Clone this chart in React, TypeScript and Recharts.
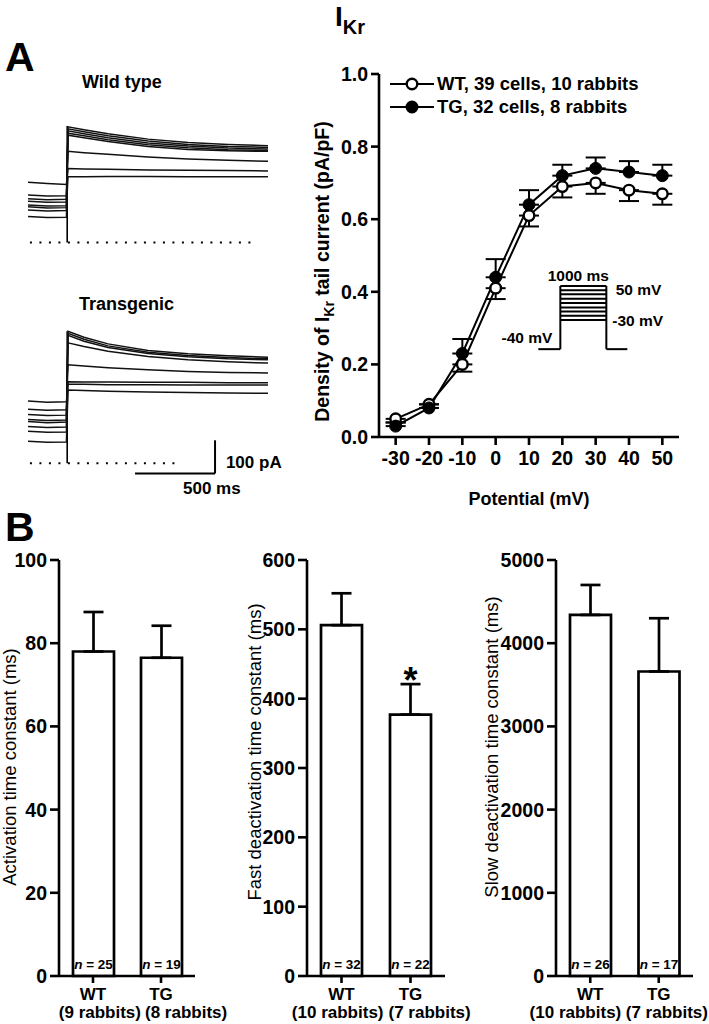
import React from 'react';
import {
  LineChart, Line, XAxis, YAxis, ErrorBar, ReferenceLine, ReferenceDot, Legend,
  BarChart, Bar, LabelList,
} from 'recharts';

const FONT = '"Liberation Sans", Arial, Helvetica, sans-serif';

// ---------- Panel A (right): I-V relation of IKr tail current density ----------
const potentials = [-30, -20, -10, 0, 10, 20, 30, 40, 50];
const wtDensity = [0.05, 0.09, 0.2, 0.41, 0.61, 0.69, 0.7, 0.68, 0.67];
const wtSem = [0.01, 0.01, 0.02, 0.03, 0.03, 0.03, 0.03, 0.03, 0.03];
const tgDensity = [0.03, 0.08, 0.23, 0.44, 0.64, 0.72, 0.74, 0.73, 0.72];
const tgSem = [0.01, 0.01, 0.04, 0.05, 0.04, 0.03, 0.03, 0.03, 0.03];
const densityTicks = [0, 0.2, 0.4, 0.6, 0.8, 1.0];
const legendNames = ['WT, 39 cells, 10 rabbits', 'TG, 32 cells, 8 rabbits'];

// voltage-protocol inset (schematic, in the I-V plot's units)
const insetHold = 0.242;
const insetX = [12.8, 19.4, 33.2, 39.5];
const insetStepLevels = [0.322, 0.334, 0.346, 0.357, 0.369, 0.381, 0.393, 0.404, 0.416];

// ---------- Panel A (left): current traces (pA vs ms) ----------
const traceTimes = [0, 120, 240, 250, 350, 500, 750, 1000, 1250, 1500];
const wtTraces = [
  [98, 95, 96, 349, 340, 328, 312, 302, 296, 292],
  [113, 110, 111, 343, 334, 322, 306, 296, 290, 287],
  [124, 121, 122, 337, 328, 316, 300, 291, 285, 282],
  [143, 140, 141, 330, 322, 310, 295, 286, 280, 278],
  [132, 129, 130, 324, 316, 305, 290, 281, 277, 275],
  [78, 75, 76, 275, 271, 266, 258, 252, 248, 245],
  [182, 178, 175, 223, 222, 221, 219, 218, 217, 216],
  [108, 104, 105, 198, 198, 199, 199, 198, 198, 198],
];
const tgTraces = [
  [111, 108, 109, 398, 380, 360, 340, 330, 324, 320],
  [126, 122, 124, 392, 374, 354, 335, 325, 319, 315],
  [132, 129, 130, 386, 368, 349, 331, 321, 315, 312],
  [147, 144, 145, 363, 352, 338, 322, 312, 306, 302],
  [163, 160, 161, 297, 293, 288, 282, 277, 274, 272],
  [96, 93, 94, 246, 245, 245, 244, 244, 243, 243],
  [188, 184, 185, 238, 238, 237, 237, 236, 236, 236],
  [66, 63, 64, 221, 219, 217, 215, 213, 212, 211],
];

// ---------- Panel B: time constants ----------
const groups = ['WT', 'TG'];
const actRabbits = ['(9 rabbits)', '(8 rabbits)'];
const actMean = [78, 76.5];
const actSem = [9.5, 7.7];
const actN = [25, 19];
const actTicks = [0, 20, 40, 60, 80, 100];

const fastRabbits = ['(10 rabbits)', '(7 rabbits)'];
const fastMean = [506, 377];
const fastSem = [46, 44];
const fastN = [32, 22];
const fastSig = ['', '*'];
const fastTicks = [0, 100, 200, 300, 400, 500, 600];

const slowRabbits = ['(10 rabbits)', '(7 rabbits)'];
const slowMean = [4340, 3660];
const slowSem = [360, 640];
const slowN = [26, 17];
const slowTicks = [0, 1000, 2000, 3000, 4000, 5000];

const AX = { stroke: '#000', strokeWidth: 2.6 };
const TICK = { fill: '#000', fontSize: 19.5, fontWeight: 'bold', fontFamily: FONT };

// ---------------- helpers ----------------
const getVB = (p: any) => p.viewBox || p;

const RotTitle = (p: any) => {
  const vb = getVB(p);
  if (!vb || vb.x == null) return null;
  const cx = vb.x + vb.width - p.off;
  const cy = vb.y + vb.height / 2 + (p.dy || 0);
  return (
    <text
      x={cx}
      y={cy}
      transform={`rotate(-90, ${cx}, ${cy})`}
      textAnchor="middle"
      fill="#000"
      fontFamily={FONT}
      fontSize={p.size}
      fontWeight={p.weight}
    >
      {p.children}
    </text>
  );
};

const IVLegend = () => (
  <div style={{ fontFamily: FONT, fontWeight: 'bold', fontSize: 18.5, color: '#000' }}>
    {legendNames.map((name, i) => (
      <div key={name} style={{ display: 'flex', alignItems: 'center', height: 23, whiteSpace: 'nowrap' }}>
        <svg width={44} height={16} style={{ display: 'block' }}>
          <line x1={0} y1={8} x2={44} y2={8} stroke="#000" strokeWidth={2} />
          <circle cx={22} cy={8} r={5.3} fill={i === 0 ? '#fff' : '#000'} stroke="#000" strokeWidth={2.4} />
        </svg>
        <span style={{ marginLeft: 3 }}>{name}</span>
      </div>
    ))}
  </div>
);

const textShape = (label: string, anchor: string, size = 17) => (p: any) => (
  <text
    x={p.cx}
    y={p.cy}
    textAnchor={anchor}
    dominantBaseline="central"
    fill="#000"
    fontFamily={FONT}
    fontWeight="bold"
    fontSize={size}
  >
    {label}
  </text>
);

// ---------------- I-V chart ----------------
const IVChart = () => {
  const ivData = potentials.map((v, i) => ({
    v,
    wt: wtDensity[i],
    tg: tgDensity[i],
    wtErr: [wtSem[i], 0],
    tgErr: [0, tgSem[i]],
  }));
  const [xl, xs, xe, xr] = insetX;
  const top = insetStepLevels[insetStepLevels.length - 1];
  return (
    <LineChart width={409} height={480} data={ivData} margin={{ top: 34, right: 30, bottom: 0, left: 0 }}>
      <XAxis
        type="number"
        dataKey="v"
        domain={[-35, 55]}
        ticks={potentials}
        tickSize={8}
        tickMargin={6}
        height={83}
        axisLine={AX}
        tickLine={AX}
        tick={TICK}
        label={(p: any) => {
          const vb = getVB(p);
          if (!vb || vb.x == null) return null;
          return (
            <text x={vb.x + vb.width / 2} y={vb.y + 68} textAnchor="middle" fill="#000" fontFamily={FONT} fontSize={18} fontWeight="bold">
              Potential (mV)
            </text>
          );
        }}
      />
      <YAxis
        type="number"
        domain={[0, 1]}
        ticks={densityTicks}
        tickFormatter={(v: number) => v.toFixed(1)}
        width={79}
        tickSize={8}
        tickMargin={3}
        axisLine={AX}
        tickLine={AX}
        tick={TICK}
        label={(p: any) => (
          <RotTitle {...p} off={50} dy={16} size={19.5} weight="bold">
            Density of I<tspan fontSize={14} dy={5}>Kr</tspan>
            <tspan dy={-5}> tail current (pA/pF)</tspan>
          </RotTitle>
        )}
      />
      <Legend
        content={IVLegend}
        layout="vertical"
        align="center"
        verticalAlign="middle"
        wrapperStyle={{ left: 90, top: 32, width: 'auto', height: 'auto' }}
      />
      {/* voltage protocol inset */}
      <ReferenceLine segment={[{ x: xl, y: insetHold }, { x: xs, y: insetHold }]} stroke="#000" strokeWidth={2} />
      <ReferenceLine segment={[{ x: xs, y: insetHold }, { x: xs, y: top }]} stroke="#000" strokeWidth={2} />
      {insetStepLevels.map((lv) => (
        <ReferenceLine key={lv} segment={[{ x: xs, y: lv }, { x: xe, y: lv }]} stroke="#000" strokeWidth={2} />
      ))}
      <ReferenceLine segment={[{ x: xe, y: top }, { x: xe, y: insetHold }]} stroke="#000" strokeWidth={2} />
      <ReferenceLine segment={[{ x: xe, y: insetHold }, { x: xr, y: insetHold }]} stroke="#000" strokeWidth={2} />
      <ReferenceDot x={24.8} y={0.446} r={0} shape={textShape('1000 ms', 'middle', 15.5)} />
      <ReferenceDot x={36} y={0.405} r={0} shape={textShape('50 mV', 'start', 15.5)} />
      <ReferenceDot x={35} y={0.322} r={0} shape={textShape('-30 mV', 'start', 15.5)} />
      <ReferenceDot x={17} y={0.273} r={0} shape={textShape('-40 mV', 'end', 15.5)} />

      <Line
        dataKey="wt"
        type="linear"
        stroke="#000"
        strokeWidth={2}
        isAnimationActive={false}
        dot={{ r: 5.3, fill: '#fff', stroke: '#000', strokeWidth: 2.4 }}
        activeDot={false}
      >
        <ErrorBar dataKey="wtErr" width={10} stroke="#000" strokeWidth={2} direction="y" />
      </Line>
      <Line
        dataKey="tg"
        type="linear"
        stroke="#000"
        strokeWidth={2}
        isAnimationActive={false}
        dot={{ r: 6, fill: '#000', stroke: '#000', strokeWidth: 1 }}
        activeDot={false}
      >
        <ErrorBar dataKey="tgErr" width={10} stroke="#000" strokeWidth={2} direction="y" />
      </Line>
    </LineChart>
  );
};

// ---------------- trace panels ----------------
const TracePanel = ({ left, top, height, bottomPad = 0, domain, traces, zeroEnd, transientTop, children }: any) => {
  const data = traceTimes.map((t, i) => {
    const row: any = { t };
    traces.forEach((tr: number[], k: number) => {
      row['s' + k] = tr[i];
    });
    return row;
  });
  return (
    <div style={{ position: 'absolute', left, top }}>
      <LineChart width={300} height={height + bottomPad} data={data} margin={{ top: 0, right: 60, bottom: bottomPad, left: 0 }}>
        <XAxis type="number" dataKey="t" domain={[0, 1500]} hide />
        <YAxis type="number" domain={domain} hide />
        <ReferenceLine segment={[{ x: 12, y: 0 }, { x: zeroEnd, y: 0 }]} stroke="#000" strokeWidth={2} strokeDasharray="2 7.5" />
        <ReferenceLine segment={[{ x: 245, y: 0 }, { x: 245, y: transientTop }]} stroke="#000" strokeWidth={1.6} />
        {traces.map((_: any, k: number) => (
          <Line key={k} dataKey={'s' + k} type="linear" stroke="#111" strokeWidth={1.5} dot={false} activeDot={false} isAnimationActive={false} />
        ))}
        {children}
      </LineChart>
    </div>
  );
};

// ---------------- bar panels ----------------
const BarPanel = ({ left, width, yWidth, right, domain, ticks, title, titleOff, titleDy, means, sems, ns, rabbits, sig, gap }: any) => {
  const data = groups.map((g, i) => ({ name: g, mean: means[i], err: [0, sems[i]], n: ns[i] }));
  const CatTick = (p: any) => {
    const { x, y, payload, index } = p;
    return (
      <g>
        <text x={x} y={y + 15} textAnchor="middle" fill="#000" fontFamily={FONT} fontSize={17} fontWeight="bold">
          {payload.value}
        </text>
        <text
          x={index === 0 ? x + 34 + gap : x - 34 + gap + 4}
          y={y + 33}
          textAnchor={index === 0 ? 'end' : 'start'}
          fill="#000"
          fontFamily={FONT}
          fontSize={17}
          fontWeight="bold"
        >
          {rabbits[index]}
        </text>
      </g>
    );
  };
  const NLabel = (p: any) => {
    const vb = getVB(p);
    const idx = p.index;
    if (!vb || vb.x == null) return null;
    const cx = vb.x + vb.width / 2;
    const bottom = vb.y + vb.height;
    const out = [
      <text key="n" x={cx} y={bottom - 7} textAnchor="middle" fill="#000" fontFamily={FONT} fontSize={13.5} fontWeight="bold">
        <tspan fontStyle="italic">n</tspan> = {ns[idx]}
      </text>,
    ];
    if (sig && sig[idx]) {
      const pxPerUnit = vb.height / means[idx];
      const errTop = vb.y - sems[idx] * pxPerUnit;
      out.push(
        <text key="s" x={cx} y={errTop + 9} textAnchor="middle" fill="#000" fontFamily={FONT} fontSize={36} fontWeight="bold">
          {sig[idx]}
        </text>
      );
    }
    return <g>{out}</g>;
  };
  return (
    <div style={{ position: 'absolute', left, top: 540 }}>
      <BarChart width={width} height={484} data={data} margin={{ top: 20, right, bottom: 0, left: 0 }} barCategoryGap={0}>
        <XAxis dataKey="name" type="category" height={48} tickSize={7} tickMargin={2} axisLine={AX} tickLine={AX} tick={CatTick} interval={0} />
        <YAxis
          type="number"
          domain={domain}
          ticks={ticks}
          width={yWidth}
          tickSize={9}
          tickMargin={3}
          axisLine={AX}
          tickLine={AX}
          tick={TICK}
          interval={0}
          label={(p: any) => (
            <RotTitle {...p} off={titleOff} dy={titleDy} size={18.5} weight="normal">
              {title}
            </RotTitle>
          )}
        />
        <Bar dataKey="mean" fill="#fff" stroke="#000" strokeWidth={2.7} barSize={41} isAnimationActive={false}>
          <ErrorBar dataKey="err" width={10} stroke="#000" strokeWidth={2.7} direction="y" />
          <LabelList dataKey="n" content={NLabel} />
        </Bar>
      </BarChart>
    </div>
  );
};

export default function App() {
  return (
    <div style={{ position: 'absolute', left: 0, top: 0, width: 709, height: 1024, background: '#fff', overflow: 'hidden', fontFamily: FONT }}>
      <TracePanel left={28} top={110} height={139} domain={[-20, 400]} traces={wtTraces} zeroEnd={1437} transientTop={352} />
      <TracePanel left={28} top={324} height={169} bottomPad={12} domain={[-90, 420]} traces={tgTraces} zeroEnd={950} transientTop={398}>
        <ReferenceLine segment={[{ x: 669, y: -31 }, { x: 1169, y: -31 }]} stroke="#000" strokeWidth={2} />
        <ReferenceLine segment={[{ x: 1169, y: -31 }, { x: 1169, y: 69 }]} stroke="#000" strokeWidth={2} />
        <ReferenceDot x={1237} y={2} r={0} shape={textShape('100 pA', 'start')} />
        <ReferenceDot x={969} y={-75} r={0} shape={textShape('500 ms', 'start')} />
      </TracePanel>

      <div style={{ position: 'absolute', left: 300, top: 40 }}>
        <IVChart />
      </div>

      <BarPanel left={0} width={240} yWidth={59} right={45} domain={[0, 100]} ticks={actTicks}
        title="Activation time constant (ms)" titleOff={43} titleDy={-1} gap={14}
        means={actMean} sems={actSem} ns={actN} rabbits={actRabbits} />
      <BarPanel left={228} width={260} yWidth={79} right={43} domain={[0, 600]} ticks={fastTicks}
        title="Fast deactivation time constant (ms)" titleOff={46} titleDy={-16} gap={8}
        means={fastMean} sems={fastSem} ns={fastN} rabbits={fastRabbits} sig={fastSig} />
      <BarPanel left={470} width={239} yWidth={86} right={16} domain={[0, 5000]} ticks={slowTicks}
        title="Slow deactivation time constant (ms)" titleOff={58.5} titleDy={-21} gap={-3}
        means={slowMean} sems={slowSem} ns={slowN} rabbits={slowRabbits} />

      <svg width={709} height={1024} style={{ position: 'absolute', left: 0, top: 0, pointerEvents: 'none' }}>
        <text x={5} y={71} fontFamily={FONT} fontSize={41} fontWeight="bold" fill="#000">A</text>
        <text x={5} y={541} fontFamily={FONT} fontSize={41} fontWeight="bold" fill="#000">B</text>
        <text x={335} y={26} fontFamily={FONT} fontSize={28} fontWeight="bold" fill="#000">
          I<tspan fontSize={20} dy={8}>Kr</tspan>
        </text>
        <text x={82} y={88} fontFamily={FONT} fontSize={18} fontWeight="bold" fill="#000">Wild type</text>
        <text x={79} y={310} fontFamily={FONT} fontSize={18} fontWeight="bold" fill="#000">Transgenic</text>
      </svg>
    </div>
  );
}
